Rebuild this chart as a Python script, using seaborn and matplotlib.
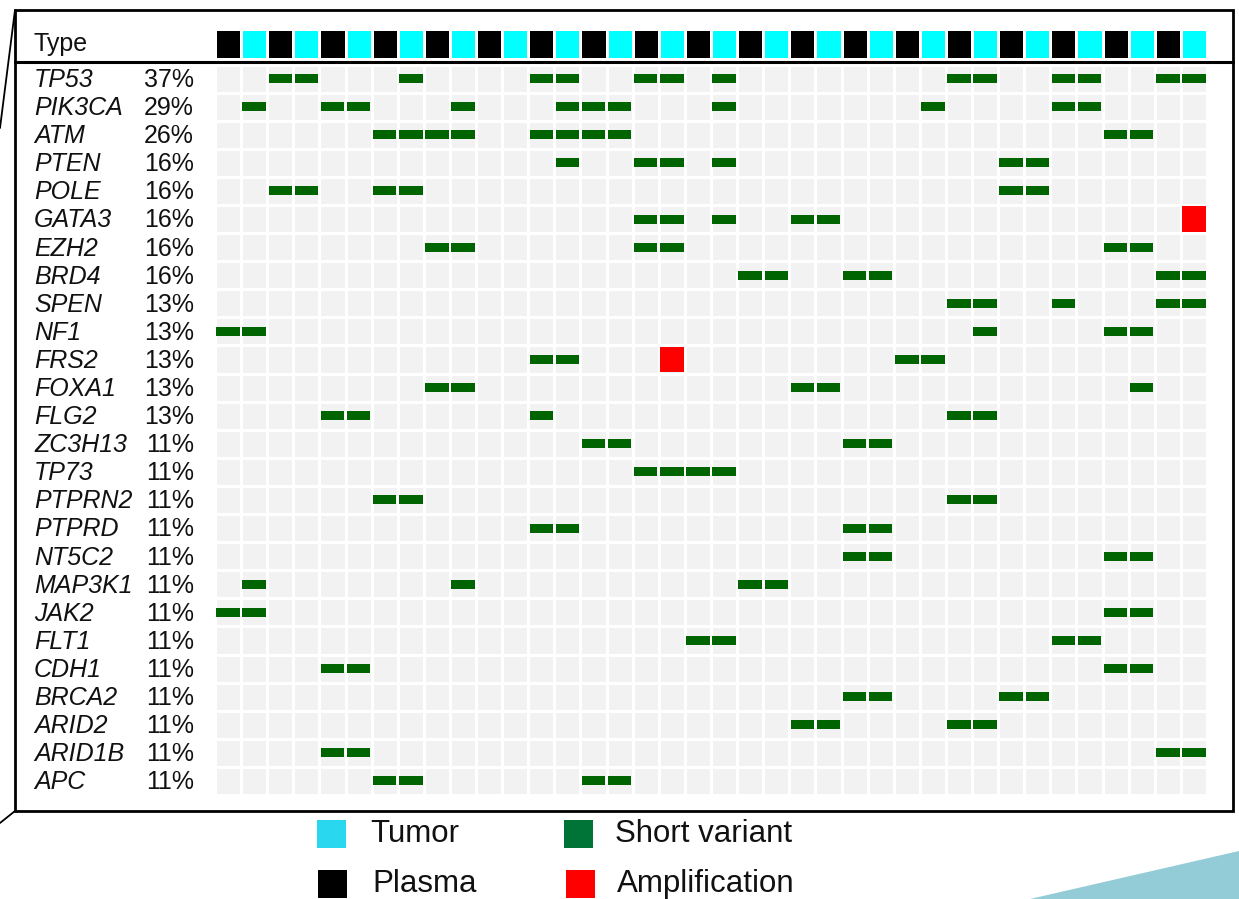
import numpy as np
import pandas as pd
import matplotlib
matplotlib.use("Agg")
import matplotlib.pyplot as plt
from matplotlib.colors import ListedColormap
from matplotlib.patches import Rectangle, Polygon
from matplotlib.lines import Line2D
import matplotlib.transforms as mtransforms
import seaborn as sns

# ---------------- data ----------------
genes = ["TP53", "PIK3CA", "ATM", "PTEN", "POLE", "GATA3", "EZH2", "BRD4", "SPEN",
         "NF1", "FRS2", "FOXA1", "FLG2", "ZC3H13", "TP73", "PTPRN2", "PTPRD", "NT5C2",
         "MAP3K1", "JAK2", "FLT1", "CDH1", "BRCA2", "ARID2", "ARID1B", "APC"]
pct_labels = ["37%", "29%", "26%", "16%", "16%", "16%", "16%", "16%", "13%",
              "13%", "13%", "13%", "13%", "11%", "11%", "11%", "11%", "11%",
              "11%", "11%", "11%", "11%", "11%", "11%", "11%", "11%"]

sample_types = ["Plasma", "Tumor", "Plasma", "Tumor", "Plasma", "Tumor", "Plasma", "Tumor",
                "Plasma", "Tumor", "Plasma", "Tumor", "Plasma", "Tumor", "Plasma", "Tumor",
                "Plasma", "Tumor", "Plasma", "Tumor", "Plasma", "Tumor", "Plasma", "Tumor",
                "Plasma", "Tumor", "Plasma", "Tumor", "Plasma", "Tumor", "Plasma", "Tumor",
                "Plasma", "Tumor", "Plasma", "Tumor", "Plasma", "Tumor"]

# sample (column) indices carrying each alteration, one list per gene
short_variant_cols = [
    [2, 3, 7, 12, 13, 16, 17, 19, 28, 29, 32, 33, 36, 37],  # TP53
    [1, 4, 5, 9, 13, 14, 15, 19, 27, 32, 33],              # PIK3CA
    [6, 7, 8, 9, 12, 13, 14, 15, 34, 35],                  # ATM
    [13, 16, 17, 19, 30, 31],                              # PTEN
    [2, 3, 6, 7, 30, 31],                                  # POLE
    [16, 17, 19, 22, 23],                                  # GATA3
    [8, 9, 16, 17, 34, 35],                                # EZH2
    [20, 21, 24, 25, 36, 37],                              # BRD4
    [28, 29, 32, 36, 37],                                  # SPEN
    [0, 1, 29, 34, 35],                                    # NF1
    [12, 13, 26, 27],                                      # FRS2
    [8, 9, 22, 23, 35],                                    # FOXA1
    [4, 5, 12, 28, 29],                                    # FLG2
    [14, 15, 24, 25],                                      # ZC3H13
    [16, 17, 18, 19],                                      # TP73
    [6, 7, 28, 29],                                        # PTPRN2
    [12, 13, 24, 25],                                      # PTPRD
    [24, 25, 34, 35],                                      # NT5C2
    [1, 9, 20, 21],                                        # MAP3K1
    [0, 1, 34, 35],                                        # JAK2
    [18, 19, 32, 33],                                      # FLT1
    [4, 5, 34, 35],                                        # CDH1
    [24, 25, 30, 31],                                      # BRCA2
    [22, 23, 28, 29],                                      # ARID2
    [4, 5, 36, 37],                                        # ARID1B
    [6, 7, 14, 15],                                        # APC
]
amp_genes = ["GATA3", "FRS2"]
amp_cols = [37, 17]

legend_labels = ["Tumor", "Short variant", "Plasma", "Amplification"]

# ---------------- style ----------------
W, H = 1239, 899
BG_CELL = "#f2f2f2"
SV_COLOR = "#006400"
AMP_COLOR = "#ff0000"
TUMOR_COLOR = "#00ffff"
PLASMA_COLOR = "#000000"

sns.set_theme(style="white")
plt.rcParams["font.family"] = ["Liberation Sans", "DejaVu Sans"]

fig = plt.figure(figsize=(W / 100, H / 100), dpi=100)
fig.patch.set_facecolor("white")


def fx(px):
    return px / W


def fy(py):
    return 1 - py / H


n_samples = len(sample_types)
n_genes = len(genes)

# ---------------- main grid ----------------
x0, x1 = 215, 1207
y0, y1 = 64.5, 795
ax = fig.add_axes([fx(x0), fy(y1), fx(x1) - fx(x0), fy(y0) - fy(y1)])
grid = pd.DataFrame(np.zeros((n_genes, n_samples)), index=genes, columns=range(n_samples))
sns.heatmap(grid, ax=ax, cmap=ListedColormap([BG_CELL]), cbar=False,
            linewidths=2.0, linecolor="white", xticklabels=False, yticklabels=False)

bar_h = 0.32
for gi, cols in enumerate(short_variant_cols):
    cols = np.asarray(cols)
    ax.bar(cols + 0.5, bar_h, bottom=gi + 0.5 - bar_h / 2, width=0.9,
           color=SV_COLOR, edgecolor="none", zorder=3)
for g, c in zip(amp_genes, amp_cols):
    gi = genes.index(g)
    ax.bar(c + 0.5, 0.9, bottom=gi + 0.05, width=0.9, color=AMP_COLOR,
           edgecolor="none", zorder=3)
ax.set_xlim(0, n_samples)
ax.set_ylim(n_genes, 0)
ax.set_xticks([])
ax.set_yticks([])
for s in ax.spines.values():
    s.set_visible(False)

# gene labels and percentages
trans = mtransforms.blended_transform_factory(fig.transFigure, ax.transData)
for gi, (g, p) in enumerate(zip(genes, pct_labels)):
    ax.text(fx(34), gi + 0.55, g, transform=trans, ha="left", va="center",
            fontsize=18, style="italic", color="#111111")
    ax.text(fx(194), gi + 0.55, p, transform=trans, ha="right", va="center",
            fontsize=18, color="#111111")

# ---------------- type row ----------------
tax = fig.add_axes([fx(x0), fy(58.5), fx(x1) - fx(x0), fy(28.5) - fy(58.5)])
type_codes = pd.DataFrame([[0 if t == "Plasma" else 1 for t in sample_types]],
                          index=["Type"], columns=range(n_samples))
sns.heatmap(type_codes, ax=tax, cmap=ListedColormap([PLASMA_COLOR, TUMOR_COLOR]),
            vmin=-0.5, vmax=1.5, cbar=False, linewidths=2.0, linecolor="white",
            xticklabels=False, yticklabels=False)
tax.set_xticks([])
tax.set_yticks([])
for s in tax.spines.values():
    s.set_visible(False)
fig.text(fx(34), fy(44), "Type", ha="left", va="center", fontsize=18, color="#111111")

# ---------------- frame ----------------
fig.patches.append(Rectangle((fx(15), fy(811)), fx(1233) - fx(15), fy(10) - fy(811),
                             transform=fig.transFigure, fill=False, edgecolor="black",
                             linewidth=2.0, zorder=5))
fig.lines.append(Line2D([fx(15), fx(1233)], [fy(62), fy(62)], transform=fig.transFigure,
                        color="black", linewidth=2.2))
# call-out lines of the slide
fig.lines.append(Line2D([fx(15), fx(0)], [fy(10), fy(128)], transform=fig.transFigure,
                        color="black", linewidth=1.3))
fig.lines.append(Line2D([fx(15), fx(0)], [fy(811), fy(823)], transform=fig.transFigure,
                        color="black", linewidth=1.3))
# decorative teal wedge bottom right
fig.patches.append(Polygon([[fx(1030), fy(899)], [fx(1239), fy(851)], [fx(1239), fy(899)]],
                           closed=True, transform=fig.transFigure, facecolor="#93ccd6",
                           edgecolor="none"))

# ---------------- legend ----------------
legend_colors = ["#29d8ee", "#007436", "#000000", "#ff0000"]
legend_pos = [(317, 820, 370), (564, 820, 615), (318, 870, 372), (566, 870, 617)]
for lab, col, (sx, sy, tx) in zip(legend_labels, legend_colors, legend_pos):
    fig.patches.append(Rectangle((fx(sx), fy(sy + 28)), fx(29), 28 / H,
                                 transform=fig.transFigure, facecolor=col,
                                 edgecolor="none"))
    fig.text(fx(tx), fy(sy + 14), lab, ha="left", va="center", fontsize=22.5,
             color="#111111")

fig.savefig("out.png", dpi=100, facecolor="white")
